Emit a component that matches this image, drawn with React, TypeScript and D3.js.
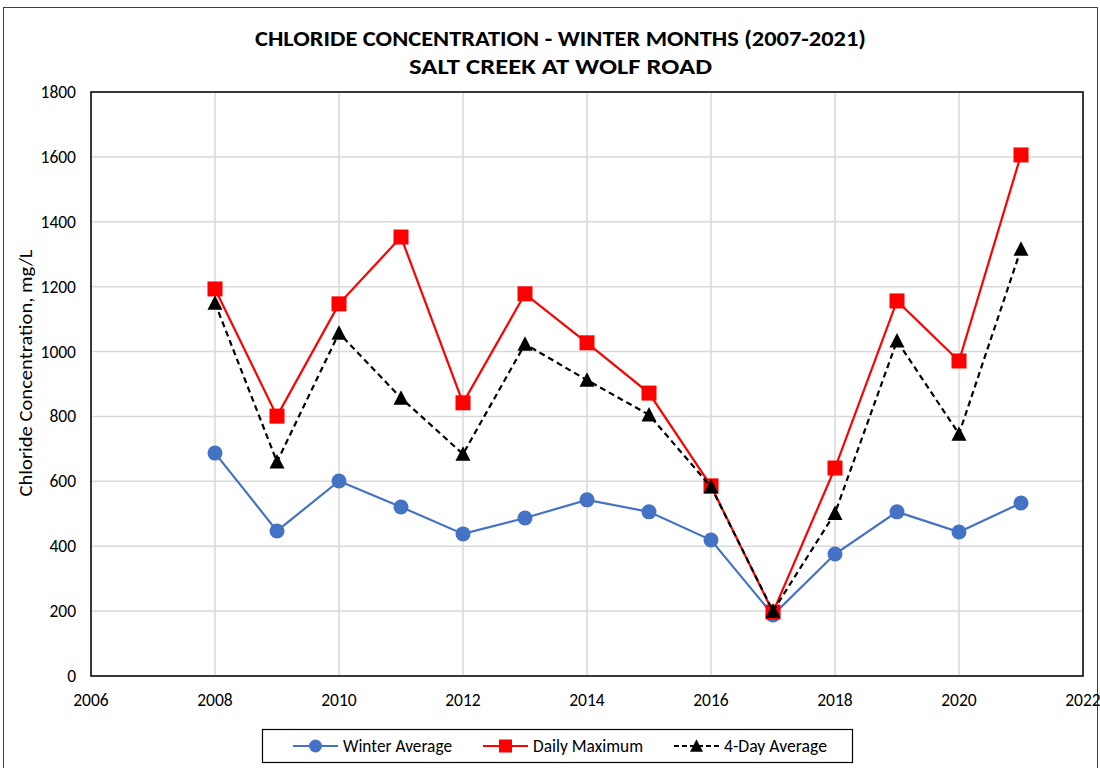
import React, { useEffect } from "react";
import * as d3 from "d3";

const years = [2008, 2009, 2010, 2011, 2012, 2013, 2014, 2015, 2016, 2017, 2018, 2019, 2020, 2021];
const winterAverage = [687, 447, 601, 521, 438, 487, 543, 506, 419, 188, 376, 506, 444, 533];
const dailyMaximum = [1193, 801, 1147, 1353, 842, 1178, 1027, 872, 586, 197, 641, 1156, 971, 1606];
const fourDayAverage = [1150, 660, 1057, 857, 684, 1023, 912, 805, 583, 200, 502, 1033, 746, 1316];
const xTicks = [2006, 2008, 2010, 2012, 2014, 2016, 2018, 2020, 2022];
const yTicks = [0, 200, 400, 600, 800, 1000, 1200, 1400, 1600, 1800];
const titleLines = ["CHLORIDE CONCENTRATION - WINTER MONTHS (2007-2021)", "SALT CREEK AT WOLF ROAD"];
const yAxisTitle = "Chloride Concentration, mg/L";
const legendLabels = ["Winter Average", "Daily Maximum", "4-Day Average"];

const W = 1100;
const H = 768;
const left = 91;
const right = 1083;
const top = 92;
const bottom = 676;
const FONT = "Carlito, 'Liberation Sans Narrow', 'Open Sans', sans-serif";

const BLUE = "#4472C4";
const RED = "#FF0000";
const BLACK = "#000000";

export default function App() {
  useEffect(() => {
    document.body.style.margin = "0";
  }, []);

  const x = d3.scaleLinear().domain([2006, 2022]).range([left, right]);
  const y = d3.scaleLinear().domain([0, 1800]).range([bottom, top]);

  const line = d3
    .line<[number, number]>()
    .x((d) => x(d[0]))
    .y((d) => y(d[1]));

  const pts = (vals: number[]) => years.map((yr, i) => [yr, vals[i]] as [number, number]);

  const tri = (cx: number, cy: number, s: number) => {
    const h = s * 0.9;
    return `M${cx},${cy - h / 2 - 1}L${cx + s / 2},${cy + h / 2}L${cx - s / 2},${cy + h / 2}Z`;
  };

  const legendY = 746;
  const legendItems = [
    { x0: 293, label: legendLabels[0], color: BLUE, kind: "circle", dash: undefined as string | undefined, tl: 109 },
    { x0: 483, label: legendLabels[1], color: RED, kind: "square", dash: undefined, tl: 110 },
    { x0: 674, label: legendLabels[2], color: BLACK, kind: "tri", dash: "5,3", tl: 103 },
  ];

  const titleLens = [611, 303];

  return (
    <svg width={W} height={H} style={{ display: "block" }} xmlns="http://www.w3.org/2000/svg">
      <rect x={0} y={0} width={W} height={H} fill="#fff" />
      <rect x={3.5} y={7.5} width={1094} height={800} fill="none" stroke="#404040" strokeWidth={1} />

      {/* Title */}
      {titleLines.map((t, i) => (
        <text
          key={i}
          x={560.5}
          y={46 + i * 28}
          textAnchor="middle"
          fontFamily={FONT}
          fontWeight="bold"
          fontSize={23}
          textLength={titleLens[i]}
          lengthAdjust="spacingAndGlyphs"
          fill="#000"
        >
          {t}
        </text>
      ))}

      {/* Grid */}
      {yTicks.map((t) => (
        <line key={"gy" + t} x1={left} x2={right} y1={y(t)} y2={y(t)} stroke="#d9d9d9" strokeWidth={1.5} />
      ))}
      {xTicks.map((t) => (
        <line key={"gx" + t} x1={x(t)} x2={x(t)} y1={top} y2={bottom} stroke="#d9d9d9" strokeWidth={1.5} />
      ))}

      {/* Plot frame */}
      <rect x={left} y={top} width={right - left} height={bottom - top} fill="none" stroke="#000" strokeWidth={1.5} />

      {/* Y tick labels */}
      {yTicks.map((t) => (
        <text key={"ty" + t} x={76} y={y(t) + 6} textAnchor="end" fontFamily={FONT} fontSize={17.5} fill="#000">
          {t}
        </text>
      ))}
      {/* X tick labels */}
      {xTicks.map((t) => (
        <text key={"tx" + t} x={x(t)} y={706} textAnchor="middle" fontFamily={FONT} fontSize={17.5} fill="#000">
          {t}
        </text>
      ))}

      {/* Y axis title */}
      <text
        transform={`translate(32, 373) rotate(-90)`}
        textAnchor="middle"
        fontFamily={FONT}
        fontSize={18.5}
        textLength={247}
        lengthAdjust="spacingAndGlyphs"
        fill="#000"
      >
        {yAxisTitle}
      </text>

      {/* Winter average */}
      <path d={line(pts(winterAverage)) || ""} fill="none" stroke={BLUE} strokeWidth={2.2} />
      {pts(winterAverage).map((d, i) => (
        <circle key={"wa" + i} cx={x(d[0])} cy={y(d[1])} r={7.5} fill={BLUE} />
      ))}

      {/* Daily maximum */}
      <path d={line(pts(dailyMaximum)) || ""} fill="none" stroke={RED} strokeWidth={2.2} />
      {pts(dailyMaximum).map((d, i) => (
        <rect key={"dm" + i} x={x(d[0]) - 7.5} y={y(d[1]) - 7.5} width={15} height={15} fill={RED} />
      ))}

      {/* 4-day average */}
      <path d={line(pts(fourDayAverage)) || ""} fill="none" stroke={BLACK} strokeWidth={2.2} strokeDasharray="6,4" />
      {pts(fourDayAverage).map((d, i) => (
        <path key={"fd" + i} d={tri(x(d[0]), y(d[1]), 15)} fill={BLACK} />
      ))}

      {/* Legend */}
      <rect x={262.5} y={729.5} width={590} height={33} fill="#fff" stroke="#000" strokeWidth={1.2} />
      {legendItems.map((it, i) => (
        <g key={"lg" + i}>
          <line x1={it.x0} x2={it.x0 + 45} y1={legendY} y2={legendY} stroke={it.color} strokeWidth={2.2} strokeDasharray={it.dash} />
          {it.kind === "circle" && <circle cx={it.x0 + 22.5} cy={legendY} r={6.5} fill={it.color} />}
          {it.kind === "square" && <rect x={it.x0 + 16} y={legendY - 6.5} width={13} height={13} fill={it.color} />}
          {it.kind === "tri" && <path d={tri(it.x0 + 22.5, legendY, 13)} fill={it.color} />}
          <text
            x={it.x0 + 50}
            y={legendY + 6}
            fontFamily={FONT}
            fontSize={17.5}
            textLength={it.tl}
            lengthAdjust="spacingAndGlyphs"
            fill="#000"
          >
            {it.label}
          </text>
        </g>
      ))}
    </svg>
  );
}
